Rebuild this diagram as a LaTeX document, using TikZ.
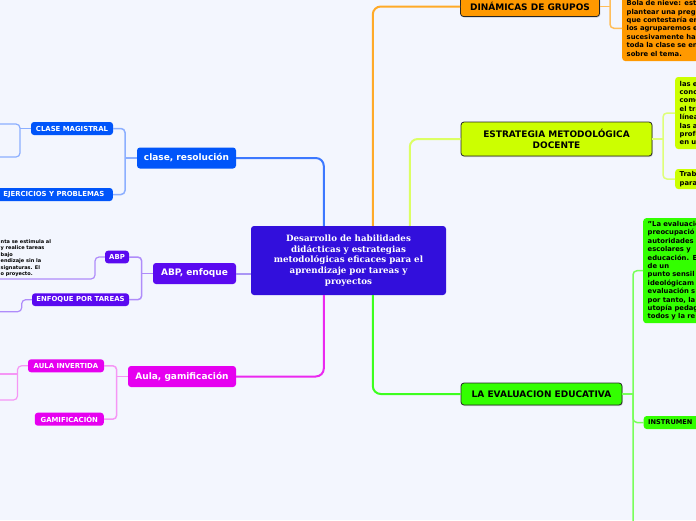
\documentclass[tikz,border=0pt]{standalone}
\usepackage{fontspec}
\setsansfont{DejaVu Sans}
\newfontfamily\cenfont{DejaVu Serif}
\usetikzlibrary{shadows}
\definecolor{bg}{RGB}{243,246,254}
\definecolor{ccen}{RGB}{50,15,220}
\definecolor{cblue}{RGB}{0,85,250}
\definecolor{cpur}{RGB}{90,10,240}
\definecolor{cmag}{RGB}{230,0,240}
\definecolor{corange}{RGB}{255,153,0}
\definecolor{cyel}{RGB}{204,255,0}
\definecolor{cgreen}{RGB}{51,255,0}
\definecolor{lblue}{RGB}{60,120,255}
\definecolor{lblue2}{RGB}{140,175,255}
\definecolor{lpur}{RGB}{170,150,245}
\definecolor{lpur2}{RGB}{175,140,250}
\definecolor{lmag}{RGB}{235,40,240}
\definecolor{lmag2}{RGB}{245,150,245}
\definecolor{lorange}{RGB}{255,170,40}
\definecolor{lorange2}{RGB}{255,190,90}
\definecolor{lyel}{RGB}{220,255,100}
\definecolor{lyel2}{RGB}{222,255,120}
\definecolor{lgreen}{RGB}{60,255,30}
\definecolor{lgreen2}{RGB}{120,255,90}
\begin{document}
\begin{tikzpicture}[x=1pt,y=-1pt,
  base/.style={rounded corners=3pt, inner sep=0pt, align=center},
  cen/.style={base, fill=ccen, text=white, font=\cenfont\bfseries\fontsize{8.7}{10.8}\selectfont},
  lone/.style={base, text=white, font=\sffamily\bfseries\fontsize{9}{11}\selectfont},
  ltwo/.style={base, text=white, font=\sffamily\bfseries\fontsize{6.9}{8}\selectfont},
  rone/.style={base, draw=black!85, line width=0.8pt, text=black,
    font=\sffamily\bfseries\fontsize{9}{11.5}\selectfont,
    drop shadow={shadow xshift=0.8pt, shadow yshift=-1pt, opacity=0.35}},
  rtxt/.style={base, anchor=west, align=left, inner xsep=4.5pt, text=black,
    font=\sffamily\bfseries\fontsize{6.8}{8.4}\selectfont},
  tinytxt/.style={inner sep=0pt, align=left, text=black,
    font=\sffamily\bfseries\fontsize{5}{6.5}\selectfont},
  mainline/.style={line width=2pt, rounded corners=8pt},
  subline/.style={line width=1.5pt, rounded corners=4pt},
  subsubline/.style={line width=1.2pt, rounded corners=4pt}]
\useasboundingbox (0,0) rectangle (696,520);
\fill[bg] (0,0) rectangle (696,520);

% central node
\node[cen, minimum width=195pt, minimum height=69pt] (c) at (348.5,260.5)
  {Desarrollo de habilidades\\didácticas y estrategias\\metodológicas eficaces para el\\aprendizaje por tareas y\\proyectos};

% ---------- left: clase, resolucion
\node[lone, fill=cblue, minimum width=99pt, minimum height=21pt] (clase) at (186.5,158) {clase, resolución};
\node[ltwo, fill=cblue, minimum width=82pt, minimum height=13pt] (cm) at (72,128.5) {CLASE MAGISTRAL};
\node[ltwo, fill=cblue, anchor=east, minimum width=118pt, minimum height=13pt] (ej) at (113,194.5) {EJERCICIOS Y PROBLEMAS};
\coordinate (jb) at (125,158);
\draw[subline, lblue2] (clase.west) -- (jb);
\draw[subline, lblue2] (cm.east) -| (jb) |- (ej.east);
\coordinate (cmj) at (20,128.5);
\coordinate (cmx) at (20,140);
\coordinate (cmo1) at (-2,124);
\coordinate (cmo2) at (-2,157);
\draw[subsubline, lblue2] (cm.west) -- (cmj);
\draw[subsubline, lblue2] (cmo1) -| (cmx) |- (cmo2);

% ---------- left: ABP, enfoque
\node[lone, fill=cpur, minimum width=83pt, minimum height=21pt] (abpe) at (194.5,273.5) {ABP, enfoque};
\node[ltwo, fill=cpur, minimum width=24pt, minimum height=12.6pt] (abp) at (117,257) {ABP};
\node[ltwo, fill=cpur, minimum width=97pt, minimum height=12.7pt] (ept) at (80.5,299.7) {ENFOQUE POR TAREAS};
\coordinate (jp) at (141.7,273.5);
\draw[subline, lpur2] (abpe.west) -- (jp);
\draw[subline, lpur2] (abp.east) -| (jp) |- (ept.east);
\coordinate (abpk) at (95,279);
\coordinate (abpc) at (-2,279);
\draw[subsubline, lpur2] (abp.west) -| (abpk) -- (abpc);
\node[tinytxt, anchor=north west] (abpt) at (0.5,239)
  {nta se estimula al\\y realice tareas\\bajo\\endizaje sin la\\signaturas. El\\o proyecto.};
\coordinate (eptk) at (21.7,311.7);
\coordinate (eptc) at (-2,311.7);
\draw[subsubline, lpur2] (ept.west) -| (eptk) -- (eptc);

% ---------- left: Aula, gamificacion
\node[lone, fill=cmag, minimum width=108pt, minimum height=21pt] (aula) at (182,376.5) {Aula, gamificación};
\node[ltwo, fill=cmag, minimum width=76pt, minimum height=13pt] (ai) at (66,365.8) {AULA INVERTIDA};
\node[ltwo, fill=cmag, minimum width=69pt, minimum height=13pt] (gam) at (69.3,419.2) {GAMIFICACIÓN};
\coordinate (jm) at (116.7,376.5);
\draw[subline, lmag2] (aula.west) -- (jm);
\draw[subline, lmag2] (ai.east) -| (jm) |- (gam.east);
\coordinate (aik) at (17.5,383);
\coordinate (aic2) at (-2,400);
\coordinate (aic1) at (-2,374);
\coordinate (aij) at (17.5,374);
\draw[subsubline, lmag2] (ai.west) -| (aik) |- (aic2);
\draw[subsubline, lmag2] (aic1) -- (aij);

% ---------- right: DINAMICAS DE GRUPOS
\node[rone, fill=corange, minimum width=139pt, minimum height=20pt] (din) at (530,6.5) {DINÁMICAS DE GRUPOS};
\node[rtxt, fill=corange, text width=80pt, minimum height=65.4pt] (bola) at (622,28.3)
  {Bola de nieve: est\\plantear una preg\\que contestaría en\\los agruparemos e\\sucesivamente ha\\toda la clase se en\\sobre el tema.};
\coordinate (jo) at (610,6.5);
\coordinate (otop) at (610,-3);
\draw[subline, lorange2] (din.east) -- (jo);
\draw[subline, lorange2] (otop) |- (bola.west);

% ---------- right: ESTRATEGIA
\node[rone, fill=cyel, minimum width=191pt, minimum height=34pt] (est) at (556.5,139) {ESTRATEGIA METODOLÓGICA\\DOCENTE};
\node[rtxt, fill=cyel, text width=60pt, minimum height=72pt] (las) at (675,113)
  {las e\\conc\\come\\el tra\\línea\\las a\\profe\\en u};
\node[rtxt, fill=cyel, text width=60pt, minimum height=20pt] (trab) at (675,179) {Trab\\para};
\coordinate (jy) at (663,139);
\draw[subline, lyel2] (est.east) -- (jy);
\draw[subline, lyel2] (las.west) -| (jy) |- (trab.west);

% ---------- right: LA EVALUACION EDUCATIVA
\node[rone, fill=cgreen, minimum width=161pt, minimum height=22pt] (eval) at (541.5,394) {LA EVALUACION EDUCATIVA};
\node[rtxt, fill=cgreen, text width=60pt, minimum height=105pt] (lev) at (643,270.7)
  {"La evaluació\\preocupació\\autoridades\\escolares y\\educación. E\\de un\\punto sensil\\ideológicam\\evaluación s\\por tanto, la\\utopía pedag\\todos y la re};
\node[rtxt, fill=cgreen, text width=60pt, minimum height=13pt, font=\sffamily\bfseries\fontsize{6.6}{8}\selectfont] (inst) at (643.5,422.5) {INSTRUMEN};
\coordinate (jg) at (633,394);
\coordinate (gbot) at (633,525);
\draw[subline, lgreen2] (eval.east) -- (jg);
\draw[subline, lgreen2] (lev.west) -| (gbot);
\draw[subline, lgreen2] (jg) |- (inst.west);

% ---------- main connectors
\draw[mainline, lblue] (c.north west) ++(73,0) |- (clase.east);
\draw[mainline, lorange] (c.north west) ++(122,0) |- (din.west);
\draw[mainline, lyel] (c.north west) ++(159,0) |- (est.west);
\draw[mainline, lmag] (c.south west) ++(73,0) |- (aula.east);
\draw[mainline, lgreen] (c.south west) ++(122,0) |- (eval.west);
\draw[mainline, lpur] (abpe.east) -- (abpe.east -| c.west);
\end{tikzpicture}
\end{document}
